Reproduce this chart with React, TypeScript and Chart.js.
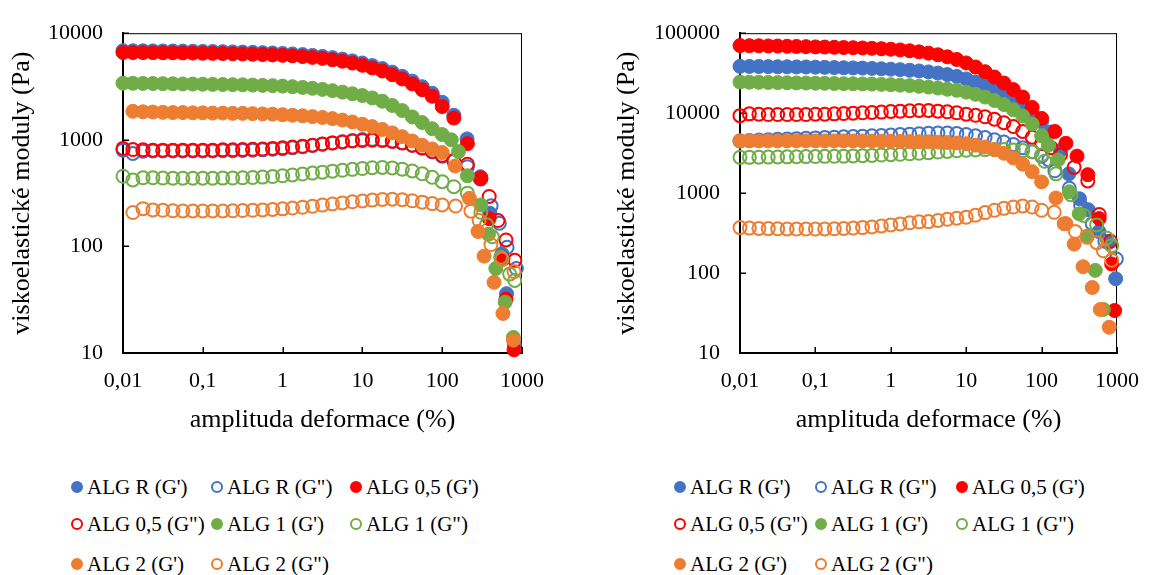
import React, { useEffect, useRef } from "react";
import { Chart, registerables } from "chart.js";

Chart.register(...registerables);

// ---------- shared axes / categories ----------
const STRAIN = [
  0.01, 0.0133, 0.0178, 0.0237, 0.0316, 0.0422, 0.0562, 0.075, 0.1,
  0.133, 0.178, 0.237, 0.316, 0.422, 0.562, 0.75, 1,
  1.33, 1.78, 2.37, 3.16, 4.22, 5.62, 7.5, 10,
  13.3, 17.8, 23.7, 31.6, 42.2, 56.2, 75, 100,
];
const X_TICKS = [0.01, 0.1, 1, 10, 100, 1000];
const X_TICK_LABELS = ["0,01", "0,1", "1", "10", "100", "1000"];
const Y_TICKS_LEFT = [10, 100, 1000, 10000];
const Y_TICK_LABELS_LEFT = ["10", "100", "1000", "10000"];
const Y_TICKS_RIGHT = [10, 100, 1000, 10000, 100000];
const Y_TICK_LABELS_RIGHT = ["10", "100", "1000", "10000", "100000"];
const SERIES_NAMES = [
  "ALG R (G')", 'ALG R (G")', "ALG 0,5 (G')", 'ALG 0,5 (G")',
  "ALG 1 (G')", 'ALG 1 (G")', "ALG 2 (G')", 'ALG 2 (G")',
];
const SERIES_COLORS = ["#4472C4", "#4472C4", "#FF0000", "#FF0000", "#70AD47", "#70AD47", "#ED7D31", "#ED7D31"];
const SERIES_FILLED = [true, false, true, false, true, false, true, false];
const X_TITLE = "amplituda deformace (%)";
const Y_TITLE = "viskoelastické moduly (Pa)";

// ---------- left panel ----------
const L_R_GP = [6850,6840,6830,6820,6810,6800,6790,6770,6750, 6730,6710,6680,6650,6610,6570,6520,6460, 6390,6300,6190,6060,5900,5720,5500,5250, 4970,4660,4310,3940,3550,3150,2730,2250];
const L_R_GP_TX = [140, 205, 300, 395, 560, 640, 800];
const L_R_GP_TY = [1700, 1020, 450, 205, 85, 36, 12];

const L_R_GPP = [800,745,780,785,785,785,785,785,785, 785,790,790,795,800,805,815,825, 840,860,885,910,935,960,985,1005, 1010,1000,975,940,890,835,770,700];
const L_R_GPP_TX = [140, 207, 300, 410, 520, 650, 850];
const L_R_GPP_TY = [630, 560, 430, 240, 165, 98, 62];

const L_05_GP = [6600,6590,6580,6570,6560,6550,6530,6510,6490, 6470,6450,6420,6390,6350,6310,6260,6200, 6130,6040,5930,5800,5640,5460,5250,5000, 4720,4420,4080,3720,3340,2950,2560,2050];
const L_05_GP_TX = [140, 207, 305, 388, 577, 630, 794];
const L_05_GP_TY = [1600, 920, 430, 182, 76, 32, 10.7];

const L_05_GPP = [830,810,805,800,800,800,800,800,800, 800,805,805,810,815,820,830,840, 855,870,890,915,935,955,975,985, 990,985,965,935,890,840,780,715];
const L_05_GPP_TX = [140, 207, 305, 388, 500, 630, 813];
const L_05_GPP_TY = [640, 590, 440, 294, 175, 115, 74];

const L_1_GP = [3400,3390,3380,3370,3360,3350,3340,3330,3320, 3310,3300,3290,3280,3260,3240,3220,3190, 3150,3100,3040,2970,2890,2800,2700,2600, 2470,2300,2100,1880,1640,1450,1270,1120];
const L_1_GP_TX = [130, 160, 207, 305, 380, 470, 615, 780];
const L_1_GP_TY = [1000, 775, 460, 245, 130, 62, 30, 14];

const L_1_GPP = [455,420,440,440,438,436,436,436,436, 436,437,438,440,443,447,452,460, 468,477,487,497,508,518,528,538, 547,550,545,530,510,480,445,405];
const L_1_GPP_TX = [140, 207, 305, 360, 425, 540, 700, 810];
const L_1_GPP_TY = [363, 316, 209, 160, 123, 79, 55, 48];

const L_2_GP = [null,1850,1830,1820,1810,1800,1800,1790,1790, 1780,1780,1770,1770,1760,1750,1740,1720, 1700,1680,1650,1620,1580,1530,1470,1400, 1330,1250,1160,1070,975,890,820,760];
const L_2_GP_TX = [145, 219, 281, 335, 446, 577, 780];
const L_2_GP_TY = [568, 283, 138, 81, 46, 23.5, 13.2];

const L_2_GPP = [null,208,226,220,218,216,215,215,215, 215,215,216,217,218,220,222,225, 229,233,238,244,250,256,262,267, 272,276,277,274,268,260,252,245];
const L_2_GPP_TX = [147, 229, 290, 408, 562, 794];
const L_2_GPP_TY = [239, 214, 175, 104, 76, 58];

// ---------- right panel ----------
const R_R_GP = [38500,38400,38300,38200,38100,38000,37900,37800,37600, 37400,37200,37000,36800,36600,36300,35900,35500, 35000,34400,33700,32800,31700,30400,28800,26800, 24500,22300,19900,17400,14800,12300,9900,7800];
const R_R_GP_TX = [133, 178, 230, 318, 415, 575, 767, 960];
const R_R_GP_TY = [5800, 3400, 1740, 850, 620, 330, 240, 85];

const R_R_GPP = [4500,4550,4600,4650,4700,4750,4800,4850,4900, 4950,5000,5050,5100,5150,5200,5260,5320, 5390,5460,5530,5600,5650,5650,5550,5400, 5200,4950,4650,4350,4050,3700,3300,2900];
const R_R_GPP_TX = [125, 150, 233, 330, 470, 690, 980];
const R_R_GPP_TY = [2600, 1900, 1150, 700, 415, 250, 150];

const R_05_GP = [70000,69800,69600,69300,69000,68700,68300,67900,67400, 67000,66600,66200,65800,65300,64700,64000,63000, 61800,60300,58500,56300,53700,50600,46900,42500, 37800,33000,28300,23800,19700,15900,11800,8600];
const R_05_GP_TX = [150, 210, 295, 410, 580, 850, 930];
const R_05_GP_TY = [5900, 4200, 2900, 1700, 480, 130, 34];

const R_05_GPP = [9300,9800,9700,9600,9600,9600,9600,9600,9700, 9700,9800,9900,10000,10100,10200,10300,10500, 10600,10700,10800,10800,10600,10400,10100,9700, 9400,9000,8400,7600,6800,5900,5000,4200];
const R_05_GPP_TX = [133, 178, 270, 410, 580, 820];
const R_05_GPP_TY = [3700, 3000, 2100, 1420, 540, 250];

const R_1_GP = [24500,24400,24300,24200,24100,24000,23900,23800,23700, 23600,23500,23400,23300,23200,23100,22900,22700, 22400,22100,21700,21200,20600,19900,19300,18300, 17200,15900,14400,12800,11000,9200,7300,5200];
const R_1_GP_TX = [123, 165, 233, 315, 400, 515, 660];
const R_1_GP_TY = [4000, 2600, 1040, 550, 290, 108, 35];

const R_1_GPP = [2800,2800,2810,2820,2830,2840,2850,2860,2870, 2880,2890,2900,2920,2940,2960,2990,3020, 3060,3100,3150,3200,3260,3320,3380,3430, 3470,3500,3510,3500,3470,3400,3300,3000];
const R_1_GPP_TX = [110, 155, 245, 363, 537, 725, 850];
const R_1_GPP_TY = [2500, 1740, 955, 525, 400, 275, 220];

const R_2_GP = [4500,4500,4500,4500,4500,4500,4500,4500,4500, 4500,4500,4500,4490,4480,4470,4460,4450, 4430,4410,4390,4380,4340,4300,4230,4150, 3980,3780,3500,3150,2750,2300,1850,1380];
const R_2_GP_TX = [155, 210, 270, 355, 470, 600, 790];
const R_2_GP_TY = [870, 415, 230, 120, 66, 35, 21];

const R_2_GPP = [370,365,362,360,358,356,355,355,355, 356,358,361,365,370,378,388,400, 412,425,437,440,455,470,485,500, 530,570,610,645,670,690,670,610];
const R_2_GPP_TX = [147, 200, 280, 400, 540, 660, 850];
const R_2_GPP_TY = [575, 415, 330, 280, 240, 190, 145];

const LEFT_SERIES = [
  [L_R_GP, L_R_GP_TX, L_R_GP_TY],
  [L_R_GPP, L_R_GPP_TX, L_R_GPP_TY],
  [L_05_GP, L_05_GP_TX, L_05_GP_TY],
  [L_05_GPP, L_05_GPP_TX, L_05_GPP_TY],
  [L_1_GP, L_1_GP_TX, L_1_GP_TY],
  [L_1_GPP, L_1_GPP_TX, L_1_GPP_TY],
  [L_2_GP, L_2_GP_TX, L_2_GP_TY],
  [L_2_GPP, L_2_GPP_TX, L_2_GPP_TY],
];
const RIGHT_SERIES = [
  [R_R_GP, R_R_GP_TX, R_R_GP_TY],
  [R_R_GPP, R_R_GPP_TX, R_R_GPP_TY],
  [R_05_GP, R_05_GP_TX, R_05_GP_TY],
  [R_05_GPP, R_05_GPP_TX, R_05_GPP_TY],
  [R_1_GP, R_1_GP_TX, R_1_GP_TY],
  [R_1_GPP, R_1_GPP_TX, R_1_GPP_TY],
  [R_2_GP, R_2_GP_TX, R_2_GP_TY],
  [R_2_GPP, R_2_GPP_TX, R_2_GPP_TY],
];

function toPoints(ys: (number | null)[], tx: number[], ty: number[]) {
  const pts: { x: number; y: number }[] = [];
  ys.forEach((y, i) => {
    if (y != null) pts.push({ x: STRAIN[i], y });
  });
  tx.forEach((x, i) => pts.push({ x, y: ty[i] }));
  return pts;
}

const FONT = '"Liberation Serif", "Times New Roman", serif';

const boxPlugin = {
  id: "boxTicks",
  beforeDatasetsDraw(chart: any) {
    const { ctx, chartArea, scales } = chart;
    const { left, right, top, bottom } = chartArea;
    ctx.save();
    ctx.strokeStyle = "#000";
    ctx.lineWidth = 1;
    ctx.beginPath();
    ctx.moveTo(left, top + 0.5);
    ctx.lineTo(right, top + 0.5);
    ctx.moveTo(right - 0.5, top);
    ctx.lineTo(right - 0.5, bottom);
    ctx.stroke();
    ctx.lineWidth = 1.5;
    ctx.beginPath();
    scales.x.ticks.forEach((t: any) => {
      const px = Math.round(scales.x.getPixelForValue(t.value)) + 0.25;
      ctx.moveTo(px, bottom);
      ctx.lineTo(px, bottom - 6);
    });
    scales.y.ticks.forEach((t: any) => {
      const py = Math.round(scales.y.getPixelForValue(t.value)) + 0.25;
      ctx.moveTo(left, py);
      ctx.lineTo(left + 6, py);
    });
    ctx.stroke();
    ctx.restore();
  },
};

type PanelProps = {
  series: any[];
  yTicks: number[];
  yTickLabels: string[];
  yWidth: number;
  padRight: number;
  yTitlePad: number;
};

function Panel({ series, yTicks, yTickLabels, yWidth, padRight, yTitlePad }: PanelProps) {
  const ref = useRef<HTMLCanvasElement | null>(null);
  useEffect(() => {
    if (!ref.current) return;
    const datasets = series.map((s: any, i: number) => {
      const filled = SERIES_FILLED[i];
      return {
        label: SERIES_NAMES[i],
        data: toPoints(s[0], s[1], s[2]),
        showLine: false,
        pointStyle: "circle",
        pointRadius: filled ? 7 : 6.5,
        pointHoverRadius: filled ? 7 : 6.5,
        borderWidth: filled ? 1 : 2,
        borderColor: SERIES_COLORS[i],
        backgroundColor: filled ? SERIES_COLORS[i] : "rgba(0,0,0,0)",
        clip: false,
        order: 20 - i,
      };
    });
    const chart = new Chart(ref.current, {
      type: "scatter",
      data: { datasets },
      options: {
        animation: false,
        responsive: false,
        devicePixelRatio: 1,
        layout: { padding: { left: 0, right: padRight, top: 20, bottom: 0 } },
        plugins: { legend: { display: false }, tooltip: { enabled: false } },
        scales: {
          x: {
            type: "logarithmic",
            min: 0.01,
            max: 1000,
            afterBuildTicks: (scale: any) => {
              scale.ticks = X_TICKS.map((v) => ({ value: v }));
            },
            afterFit: (scale: any) => {
              scale.height = 107;
            },
            grid: { display: true, drawOnChartArea: false, drawTicks: false },
            border: { display: true, color: "#000", width: 2 },
            ticks: {
              autoSkip: false,
              maxRotation: 0,
              padding: 15,
              color: "#000",
              font: { family: FONT, size: 22 },
              callback: (v: any) => {
                const i = X_TICKS.indexOf(Number(v));
                return i >= 0 ? X_TICK_LABELS[i] : "";
              },
            },
            title: {
              display: true,
              text: X_TITLE,
              color: "#000",
              font: { family: FONT, size: 26 },
              padding: { top: 0, bottom: 24 },
            },
          },
          y: {
            type: "logarithmic",
            min: yTicks[0],
            max: yTicks[yTicks.length - 1],
            afterBuildTicks: (scale: any) => {
              scale.ticks = yTicks.map((v) => ({ value: v }));
            },
            afterFit: (scale: any) => {
              scale.width = yWidth;
            },
            grid: { display: true, drawOnChartArea: false, drawTicks: false },
            border: { display: true, color: "#000", width: 2 },
            ticks: {
              autoSkip: false,
              padding: 20,
              color: "#000",
              font: { family: FONT, size: 22 },
              callback: (v: any) => {
                const i = yTicks.indexOf(Number(v));
                return i >= 0 ? yTickLabels[i] : "";
              },
            },
            title: {
              display: true,
              text: Y_TITLE,
              color: "#000",
              font: { family: FONT, size: 26 },
              padding: { top: yTitlePad, bottom: 0 },
            },
          },
        },
      },
      plugins: [boxPlugin],
    } as any);
    return () => chart.destroy();
  }, []);
  return <canvas ref={ref} width={577} height={460} style={{ width: 577, height: 460, display: "block" }} />;
}

function Legend({ cols, rowsY }: { cols: number[]; rowsY: number[] }) {
  const layout = [
    [0, 0], [0, 1], [0, 2],
    [1, 0], [1, 1], [1, 2],
    [2, 0], [2, 1],
  ];
  return (
    <>
      {SERIES_NAMES.map((name, i) => {
        const [r, c] = layout[i];
        const filled = SERIES_FILLED[i];
        return (
          <div
            key={i}
            style={{
              position: "absolute",
              left: cols[c] - 6,
              top: rowsY[r] - 14,
              height: 28,
              display: "flex",
              alignItems: "center",
              whiteSpace: "nowrap",
              fontFamily: FONT,
              fontSize: 21,
              color: "#000",
            }}
          >
            <span
              style={{
                display: "inline-block",
                boxSizing: "border-box",
                width: 12,
                height: 12,
                borderRadius: "50%",
                border: `2px solid ${SERIES_COLORS[i]}`,
                background: filled ? SERIES_COLORS[i] : "transparent",
                marginRight: 4,
              }}
            />
            <span>{name}</span>
          </div>
        );
      })}
    </>
  );
}

export default function App() {
  return (
    <div style={{ position: "absolute", left: 0, top: 0, width: 1154, height: 575, background: "#fff", overflow: "hidden" }}>
      <div style={{ position: "absolute", left: 0, top: 0 }}>
        <Panel series={LEFT_SERIES} yTicks={Y_TICKS_LEFT} yTickLabels={Y_TICK_LABELS_LEFT} yWidth={123} padRight={55} yTitlePad={7} />
      </div>
      <div style={{ position: "absolute", left: 577, top: 0 }}>
        <Panel series={RIGHT_SERIES} yTicks={Y_TICKS_RIGHT} yTickLabels={Y_TICK_LABELS_RIGHT} yWidth={163} padRight={26.5} yTitlePad={35} />
      </div>
      <Legend cols={[77, 217, 356]} rowsY={[487, 524, 564]} />
      <Legend cols={[680, 821, 962]} rowsY={[487, 524, 564]} />
    </div>
  );
}
